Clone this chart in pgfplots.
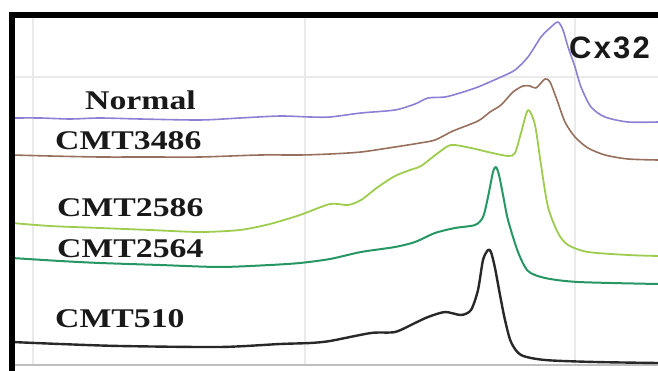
\documentclass[border=0pt]{standalone}
\usepackage{pgfplots}
\pgfplotsset{compat=1.18}
\usepackage{fontspec}
\setmainfont{Liberation Serif}
\newfontfamily\arialfont[LetterSpace=7]{Liberation Sans}
\definecolor{cnormal}{RGB}{140,128,212}
\definecolor{c3486}{RGB}{150,112,92}
\definecolor{c2586}{RGB}{158,204,78}
\definecolor{c2564}{RGB}{38,150,100}
\definecolor{c510}{RGB}{40,40,40}
\definecolor{gridc}{RGB}{234,234,234}
\begin{document}
\begin{tikzpicture}
\useasboundingbox (0,0) rectangle (658pt,371pt);
\clip (0,0) rectangle (658pt,371pt);
\begin{axis}[
  at={(12pt,6pt)}, anchor=south west,
  scale only axis, width=646pt, height=350pt,
  xmin=12, xmax=658, ymin=15, ymax=365, y dir=reverse,
  axis line style={draw=none},
  xtick={33,305,575}, ytick={77},
  xticklabels={}, yticklabels={},
  extra y ticks={365}, extra y tick labels={},
  extra y tick style={grid style={black!25, line width=1.2pt}},
  major tick length=0pt,
  grid=major, grid style={gridc, line width=1.5pt},
  clip=true,
  every axis plot/.append style={smooth, tension=0.45, line join=round},
]
\addplot[cnormal, line width=1.6pt] coordinates {
(12,118)(40,118)(70,119)(100,118)(140,119)(200,120)(240,118)(280,116)(310,117)(330,117)(361,113)(395,110)(415,104)(428,98)(445,97)(460,93)(478,87)(501,77)(515,70)(528,57)(541,37)(551,27)(558,22)(563,30)(568,47)(575,67)(581,87)(591,107)(605,117)(628,122)(658,122)};
\addplot[c3486, line width=1.6pt] coordinates {
(12,155)(50,156)(100,157)(150,157)(200,157)(260,155)(300,155)(330,154)(361,152)(395,147)(420,143)(435,140)(453,131)(478,121)(490,112)(501,105)(513,92)(523,86)(530,86)(536,88)(545,79)(550,82)(557,100)(565,122)(575,137)(588,148)(605,155)(628,159)(658,160)};
\addplot[c2586, line width=1.8pt] coordinates {
(12,223)(50,226)(100,228)(150,230)(200,232)(240,230)(270,224)(300,215)(330,204)(348,205)(361,200)(378,187)(395,176)(410,170)(421,166)(438,153)(451,145)(471,148)(488,152)(508,156)(515,153)(521,133)(528,110)(535,125)(541,165)(548,207)(558,233)(568,245)(588,252)(628,255)(658,256)};
\addplot[c2564, line width=2pt] coordinates {
(12,258)(60,261)(100,263)(160,265)(220,267)(270,265)(300,263)(330,259)(361,252)(395,247)(415,242)(435,233)(455,228)(475,225)(483,217)(488,197)(493,172)(496,167)(499,175)(503,195)(508,220)(518,252)(528,271)(545,278)(578,282)(658,284)};
\addplot[c510, line width=2.4pt] coordinates {
(12,342)(60,344)(120,346)(220,347)(280,344)(310,343)(330,341)(371,333)(395,332)(415,323)(428,317)(445,312)(461,315)(471,310)(478,290)(483,260)(488,250)(491,252)(495,268)(500,295)(505,320)(511,342)(521,355)(545,360)(595,362)(658,363)};
\begin{scope}[every node/.style={anchor=base west, inner sep=0pt, text=black!90}]
\node at (axis cs:85,110) {\scalebox{1.25}[1]{\fontsize{27}{30}\selectfont\bfseries Normal}};
\node at (axis cs:55,150) {\scalebox{1.25}[1]{\fontsize{27}{30}\selectfont\bfseries CMT3486}};
\node at (axis cs:57,217) {\scalebox{1.25}[1]{\fontsize{27}{30}\selectfont\bfseries CMT2586}};
\node at (axis cs:57,258) {\scalebox{1.25}[1]{\fontsize{27}{30}\selectfont\bfseries CMT2564}};
\node at (axis cs:55,327) {\scalebox{1.25}[1]{\fontsize{27}{30}\selectfont\bfseries CMT510}};
\node at (axis cs:569,59) {\arialfont\fontsize{31}{34}\selectfont\bfseries Cx32};
\end{scope}
\end{axis}
\draw[line width=6pt, black] (12pt,0pt) -- (12pt,356pt);
\draw[line width=6pt, black] (9pt,356pt) -- (658pt,356pt);
\end{tikzpicture}
\end{document}
